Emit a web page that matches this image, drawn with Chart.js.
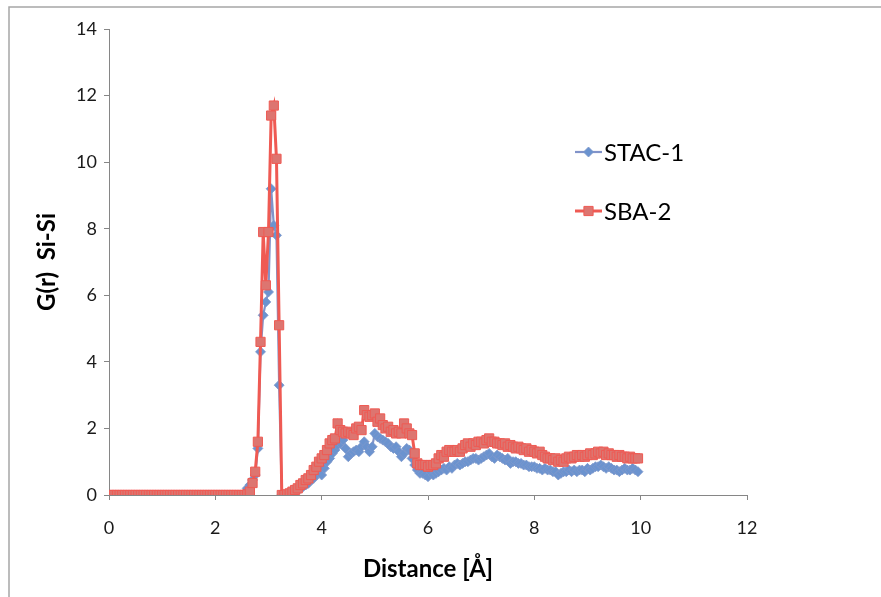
<!DOCTYPE html>
<html>
<head>
<meta charset="utf-8">
<script src="https://cdn.jsdelivr.net/npm/chart.js@4/dist/chart.umd.min.js"></script>
<style>
  html, body { margin: 0; padding: 0; background: #ffffff; }
  canvas { display: block; }
</style>
</head>
<body>
<canvas id="c" width="881" height="597"></canvas>
<script>
// Distance in Å
const distance = [
  0.00,0.05,0.10,0.15,0.20,0.25,0.30,0.35,0.40,0.45,
  0.50,0.55,0.60,0.65,0.70,0.75,0.80,0.85,0.90,0.95,
  1.00,1.05,1.10,1.15,1.20,1.25,1.30,1.35,1.40,1.45,
  1.50,1.55,1.60,1.65,1.70,1.75,1.80,1.85,1.90,1.95,
  2.00,2.05,2.10,2.15,2.20,2.25,2.30,2.35,2.40,2.45,
  2.50,2.55,2.60,2.65,2.70,2.75,2.80,2.85,2.90,2.95,
  3.00,3.05,3.10,3.15,3.20,3.25,3.30,3.35,3.40,3.45,
  3.50,3.55,3.60,3.65,3.70,3.75,3.80,3.85,3.90,3.95,
  4.00,4.05,4.10,4.15,4.20,4.25,4.30,4.35,4.40,4.45,
  4.50,4.55,4.60,4.65,4.70,4.75,4.80,4.85,4.90,4.95,
  5.00,5.05,5.10,5.15,5.20,5.25,5.30,5.35,5.40,5.45,
  5.50,5.55,5.60,5.65,5.70,5.75,5.80,5.85,5.90,5.95,
  6.00,6.05,6.10,6.15,6.20,6.25,6.30,6.35,6.40,6.45,
  6.50,6.55,6.60,6.65,6.70,6.75,6.80,6.85,6.90,6.95,
  7.00,7.05,7.10,7.15,7.20,7.25,7.30,7.35,7.40,7.45,
  7.50,7.55,7.60,7.65,7.70,7.75,7.80,7.85,7.90,7.95,
  8.00,8.05,8.10,8.15,8.20,8.25,8.30,8.35,8.40,8.45,
  8.50,8.55,8.60,8.65,8.70,8.75,8.80,8.85,8.90,8.95,
  9.00,9.05,9.10,9.15,9.20,9.25,9.30,9.35,9.40,9.45,
  9.50,9.55,9.60,9.65,9.70,9.75,9.80,9.85,9.90,9.95
];

// STAC-1 G(r) Si-Si
const stac1 = [
  0,0,0,0,0,0,0,0,0,0,
  0,0,0,0,0,0,0,0,0,0,
  0,0,0,0,0,0,0,0,0,0,
  0,0,0,0,0,0,0,0,0,0,
  0,0,0,0,0,0,0,0,0,0,
  0,0.05,0.2,0.3,0.45,0.6,1.4,4.3,5.4,5.8,
  6.1,9.2,8.1,7.8,3.3,0,0,0,0.03,0.05,
  0.1,0.15,0.2,0.25,0.3,0.35,0.45,0.5,0.6,0.7,
  0.6,0.8,1.0,1.1,1.25,1.35,1.5,1.55,1.65,1.4,
  1.15,1.25,1.3,1.35,1.3,1.45,1.6,1.45,1.3,1.45,
  1.85,1.75,1.7,1.65,1.6,1.55,1.45,1.4,1.45,1.3,
  1.15,1.25,1.4,1.35,1.1,0.9,0.75,0.65,0.65,0.6,
  0.55,0.7,0.6,0.65,0.7,0.75,0.8,0.75,0.85,0.8,
  0.9,0.95,0.9,0.95,1.0,1.0,1.05,1.1,1.1,1.05,
  1.1,1.15,1.2,1.25,1.15,1.1,1.2,1.15,1.1,1.05,
  1.1,0.95,1.0,1.0,0.95,0.95,0.9,0.9,0.85,0.85,
  0.85,0.8,0.8,0.75,0.8,0.75,0.75,0.7,0.7,0.6,
  0.65,0.7,0.7,0.75,0.7,0.75,0.7,0.75,0.75,0.7,
  0.8,0.75,0.8,0.85,0.85,0.9,0.85,0.8,0.85,0.8,
  0.75,0.75,0.7,0.75,0.8,0.75,0.75,0.8,0.75,0.7
];

// SBA-2 G(r) Si-Si
const sba2 = [
  0,0,0,0,0,0,0,0,0,0,
  0,0,0,0,0,0,0,0,0,0,
  0,0,0,0,0,0,0,0,0,0,
  0,0,0,0,0,0,0,0,0,0,
  0,0,0,0,0,0,0,0,0,0,
  0,0,0.02,0.1,0.36,0.7,1.6,4.6,7.9,6.3,
  7.9,11.4,11.7,10.1,5.1,0,0,0.02,0.05,0.1,
  0.15,0.2,0.3,0.35,0.45,0.5,0.6,0.75,0.85,1.0,
  1.1,1.2,1.35,1.55,1.65,1.7,2.15,1.95,1.9,1.85,
  1.9,1.85,1.8,2.0,2.05,1.95,2.55,2.4,2.35,2.4,
  2.45,2.2,2.3,2.1,2.0,2.05,1.9,1.95,1.85,1.9,
  1.85,2.15,2.0,1.85,1.8,1.25,0.95,0.9,0.9,0.9,
  0.85,0.9,0.9,0.95,1.1,1.2,1.15,1.3,1.35,1.3,
  1.3,1.35,1.3,1.4,1.5,1.55,1.45,1.55,1.5,1.6,
  1.6,1.55,1.65,1.7,1.6,1.6,1.55,1.55,1.5,1.55,
  1.45,1.5,1.45,1.4,1.45,1.4,1.35,1.4,1.3,1.35,
  1.3,1.25,1.3,1.2,1.15,1.1,1.1,1.05,1.1,1.0,
  1.05,1.0,1.1,1.15,1.1,1.15,1.2,1.15,1.2,1.15,
  1.2,1.25,1.2,1.25,1.3,1.25,1.3,1.2,1.25,1.2,
  1.2,1.15,1.2,1.15,1.15,1.1,1.15,1.1,1.1,1.1
];

const seriesNames = ['STAC-1', 'SBA-2'];
const xTickValues = [0, 2, 4, 6, 8, 10, 12];
const yTickValues = [0, 2, 4, 6, 8, 10, 12, 14];

const toPoints = (ys) => distance.map((d, i) => ({ x: d, y: ys[i] }));

const FONT = "Lato, 'Open Sans', 'Liberation Sans', sans-serif";

const frameBorder = {
  id: 'frameBorder',
  beforeDraw(chart) {
    const ctx = chart.ctx;
    ctx.save();
    ctx.strokeStyle = '#a6a6a6';
    ctx.lineWidth = 1.5;
    ctx.beginPath();
    ctx.moveTo(9, 597);
    ctx.lineTo(9, 7);
    ctx.lineTo(881, 7);
    ctx.stroke();
    ctx.restore();
  }
};

const customLegend = {
  id: 'customLegend',
  afterDraw(chart) {
    const ctx = chart.ctx;
    const positions = [{ x: 575, y: 152 }, { x: 575, y: 211 }];
    ctx.save();
    chart.data.datasets.forEach((ds, i) => {
      const p = positions[i];
      ctx.strokeStyle = ds.borderColor;
      ctx.lineWidth = ds.borderWidth;
      ctx.beginPath();
      ctx.moveTo(p.x, p.y);
      ctx.lineTo(p.x + 27, p.y);
      ctx.stroke();
      ctx.fillStyle = ds.pointBackgroundColor;
      ctx.strokeStyle = ds.pointBorderColor;
      ctx.lineWidth = ds.pointBorderWidth;
      Chart.helpers.drawPoint(ctx, {
        pointStyle: ds.pointStyle,
        rotation: 0,
        borderWidth: ds.pointBorderWidth,
        radius: ds.pointRadius
      }, p.x + 13.5, p.y);
      ctx.fillStyle = '#000000';
      ctx.font = "24px " + FONT;
      ctx.textBaseline = 'middle';
      ctx.textAlign = 'left';
      ctx.fillText(ds.label, p.x + 29, p.y + 1);
    });
    ctx.restore();
  }
};

const chart = new Chart(document.getElementById('c'), {
  type: 'line',
  data: {
    datasets: [
      {
        label: seriesNames[0],
        data: toPoints(stac1),
        borderColor: '#8193c9',
        borderWidth: 2.2,
        pointStyle: 'rectRot',
        pointRadius: 5,
        pointBackgroundColor: '#6b93cf',
        pointBorderColor: '#7d98cc',
        pointBorderWidth: 0.8,
        tension: 0,
        order: 1
      },
      {
        label: seriesNames[1],
        data: toPoints(sba2),
        borderColor: '#ef5a53',
        borderWidth: 3,
        pointStyle: 'rect',
        pointRadius: 6.5,
        pointBackgroundColor: '#dd7570',
        pointBorderColor: '#ef5a53',
        pointBorderWidth: 1,
        tension: 0,
        order: 0
      }
    ]
  },
  options: {
    responsive: false,
    devicePixelRatio: 1,
    animation: false,
    layout: { padding: { left: 0, right: 134, top: 29, bottom: 0 } },
    plugins: {
      legend: { display: false },
      tooltip: { enabled: false }
    },
    scales: {
      x: {
        type: 'linear',
        min: 0,
        max: 12,
        afterBuildTicks(scale) { scale.ticks = xTickValues.map(v => ({ value: v })); },
        afterFit(scale) { scale.height = 102; },
        ticks: {
          font: { family: FONT, size: 18 },
          color: '#1a1a1a',
          padding: 17
        },
        grid: {
          drawOnChartArea: false,
          drawTicks: true,
          tickLength: 5,
          color: '#868686'
        },
        border: { display: true, color: '#868686', width: 1 },
        title: {
          display: true,
          text: 'Distance [Å]',
          font: { family: FONT, size: 24, weight: 'bold' },
          color: '#000000',
          padding: { top: 0, bottom: 13 }
        }
      },
      y: {
        type: 'linear',
        min: 0,
        max: 14,
        afterBuildTicks(scale) { scale.ticks = yTickValues.map(v => ({ value: v })); },
        afterFit(scale) { scale.width = 109; },
        ticks: {
          font: { family: FONT, size: 18 },
          color: '#1a1a1a',
          padding: 7
        },
        grid: {
          drawOnChartArea: false,
          drawTicks: true,
          tickLength: 5,
          color: '#868686'
        },
        border: { display: true, color: '#868686', width: 1 },
        title: {
          display: true,
          text: 'G(r)  Si-Si',
          font: { family: FONT, size: 24, weight: 'bold' },
          color: '#000000',
          padding: { top: 33, bottom: 0 }
        }
      }
    }
  },
  plugins: [frameBorder, customLegend]
});
</script>
</body>
</html>
